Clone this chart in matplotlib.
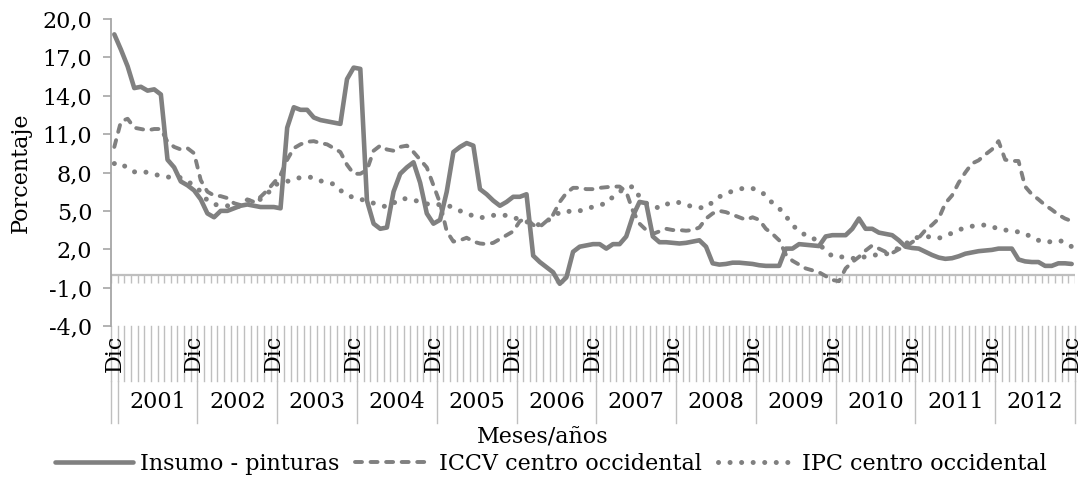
# Variacion anual: insumo pinturas vs ICCV e IPC centro occidental
import numpy as np
import matplotlib
matplotlib.use("Agg")
import matplotlib.pyplot as plt

plt.rcParams['font.family'] = ['DejaVu Serif']

# Dic 2000 + Ene..Dic 2001-2012 (145 meses)
years = [str(y) for y in range(2001, 2013)]
month_labels = ['Dic'] + (['', '', '', '', '', '', '', '', '', '', '', 'Dic'] * 12)

insumo = [18.8,
          17.6, 16.3, 14.6, 14.7, 14.4, 14.5, 14.1, 9.0, 8.4, 7.3, 7.0, 6.6,
          5.9, 4.8, 4.5, 5.0, 5.0, 5.2, 5.4, 5.5, 5.4, 5.3, 5.3, 5.3,
          5.2, 11.5, 13.1, 12.9, 12.9, 12.3, 12.1, 12.0, 11.9, 11.8, 15.3, 16.2,
          16.1, 5.8, 4.0, 3.6, 3.7, 6.5, 7.9, 8.4, 8.8, 7.2, 4.8, 4.0,
          4.3, 6.5, 9.6, 10.0, 10.3, 10.1, 6.7, 6.3, 5.8, 5.4, 5.7, 6.1,
          6.1, 6.3, 1.5, 1.0, 0.6, 0.2, -0.7, -0.2, 1.8, 2.2, 2.3, 2.4,
          2.4, 2.05, 2.4, 2.4, 3.0, 4.6, 5.7, 5.6, 3.0, 2.55, 2.55, 2.5,
          2.45, 2.5, 2.6, 2.7, 2.2, 0.9, 0.8, 0.85, 0.95, 0.95, 0.9, 0.85,
          0.75, 0.7, 0.7, 0.7, 2.05, 2.05, 2.4, 2.35, 2.3, 2.25, 3.0, 3.1,
          3.1, 3.1, 3.6, 4.4, 3.6, 3.6, 3.3, 3.2, 3.1, 2.7, 2.2, 2.1,
          2.05, 1.8, 1.55, 1.35, 1.25, 1.3, 1.45, 1.65, 1.75, 1.85, 1.9, 1.95,
          2.05, 2.05, 2.05, 1.2, 1.05, 1.0, 1.0, 0.7, 0.7, 0.9, 0.9, 0.85]

iccv = [10.0,
        12.0, 12.2, 11.5, 11.4, 11.3, 11.4, 11.4, 10.4, 10.0, 9.8, 9.9, 9.5,
        7.4, 6.5, 6.2, 6.15, 6.0, 5.6, 5.45, 5.9, 5.7, 6.1, 6.6, 7.2,
        7.8, 9.0, 9.9, 10.2, 10.4, 10.45, 10.3, 10.2, 9.9, 9.6, 8.6, 7.9,
        7.9, 8.2, 9.7, 10.1, 9.8, 9.7, 10.0, 10.1, 9.6, 9.0, 8.4, 7.0,
        5.6, 3.4, 2.6, 2.7, 2.9, 2.6, 2.45, 2.4, 2.5, 2.8, 3.1, 3.4,
        4.2, 4.4, 3.9, 3.75, 4.2, 4.7, 5.7, 6.4, 6.8, 6.8, 6.7, 6.7,
        6.8, 6.85, 6.9, 6.9, 6.5, 5.0, 4.0, 3.5, 3.2, 3.4, 3.6, 3.5,
        3.5, 3.45, 3.5, 3.7, 4.4, 4.8, 5.0, 4.9, 4.7, 4.5, 4.3, 4.5,
        4.3, 3.6, 3.2, 2.7, 1.6, 1.1, 0.8, 0.5, 0.35, 0.2, -0.1, -0.4,
        -0.5, 0.5, 1.0, 1.4, 1.9, 2.3, 2.05, 1.8, 1.7, 2.0, 2.2, 2.55,
        2.9, 3.5, 3.9, 4.4, 5.6, 6.2, 7.2, 8.0, 8.7, 8.95, 9.4, 9.8,
        10.45, 9.0, 8.9, 8.9, 6.9, 6.3, 5.9, 5.45, 5.1, 4.7, 4.4, 4.2]

ipc = [8.7,
       8.75, 8.3, 8.05, 8.1, 8.0, 7.85, 7.75, 7.65, 7.6, 7.6, 7.3, 7.0,
       6.5, 5.8, 5.5, 5.45, 5.4, 5.3, 5.4, 5.8, 5.85, 5.9, 6.3, 7.0,
       7.2, 7.3, 7.5, 7.6, 7.65, 7.6, 7.35, 7.2, 7.1, 6.6, 6.3, 6.0,
       5.9, 5.8, 5.6, 5.45, 5.3, 5.6, 5.95, 5.95, 5.85, 5.7, 5.55, 5.45,
       5.5, 5.5, 5.2, 5.0, 4.8, 4.6, 4.45, 4.55, 4.65, 4.65, 4.65, 4.5,
       4.3, 4.15, 4.0, 3.9, 4.2, 4.5, 4.9, 5.0, 4.9, 5.0, 5.2, 5.3,
       5.45, 5.6, 6.1, 6.5, 6.8, 6.9, 6.1, 5.6, 5.4, 5.2, 5.5, 5.7,
       5.65, 5.5, 5.3, 5.25, 5.25, 5.7, 6.1, 6.35, 6.55, 6.7, 6.8, 6.75,
       6.6, 6.2, 5.6, 5.2, 4.6, 3.9, 3.4, 3.1, 2.95, 2.4, 1.9, 1.45,
       1.4, 1.4, 1.3, 1.2, 1.45, 1.55, 1.55, 1.6, 1.85, 2.1, 2.4, 2.8,
       2.95, 3.0, 2.95, 2.85, 3.1, 3.25, 3.5, 3.7, 3.8, 3.85, 3.9, 3.8,
       3.55, 3.5, 3.45, 3.35, 3.25, 2.9, 2.7, 2.55, 2.6, 2.7, 2.55, 2.2]

series_names = ['Insumo - pinturas', 'ICCV centro occidental', 'IPC centro occidental']
yticks = [-4, -1, 2, 5, 8, 11, 14, 17, 20]

line_col = '#808080'
axis_col = '#A6A6A6'
band_col = '#BFBFBF'
fs = 16

fig = plt.figure(figsize=(10.83, 4.78), dpi=100)
W, H = 1083, 478
ax = fig.add_axes([111 / W, 1 - 326 / H, (1075 - 111) / W, (326 - 19) / H])

x = np.arange(len(insumo))
ax.plot(x, insumo, color=line_col, lw=3.3, solid_joinstyle='round',
        solid_capstyle='round', label=series_names[0])
ax.plot(x, iccv, color=line_col, lw=2.8, linestyle=(0, (1.8, 2.2)),
        dash_capstyle='round', label=series_names[1])
ax.plot(x, ipc, color=line_col, lw=3.6, linestyle=(0, (0.01, 2.3)),
        dash_capstyle='round', label=series_names[2])

ax.set_xlim(-0.5, len(x) - 0.5)
ax.set_ylim(yticks[0], yticks[-1])
ax.set_yticks(yticks)
ax.set_yticklabels([f"{v:.1f}".replace('.', ',') for v in yticks], fontsize=fs)
ax.tick_params(axis='y', length=5.5, width=1.2, color=axis_col, pad=8)
ax.set_xticks([])
for s in ['top', 'right', 'bottom']:
    ax.spines[s].set_visible(False)
ax.spines['left'].set_color(axis_col)
ax.spines['left'].set_linewidth(1.3)
ax.set_ylabel('Porcentaje', fontsize=fs, labelpad=8)

# horizontal axis crossing at zero with tick marks between categories
ax.axhline(0, color=band_col, lw=1.6, zorder=1)
bounds = np.arange(-0.5, len(x), 1.0)
ax.vlines(bounds, -0.65, 0, color=band_col, lw=1.0, zorder=1)

# multi-level category labels below the plot
tr = ax.get_xaxis_transform()
band1 = -(381 - 326) / 307
band2 = -(423 - 326) / 307
for b in bounds:
    ax.plot([b, b], [0, band1], transform=tr, color=band_col, lw=1.0, clip_on=False)
year_bounds = [-0.5] + [0.5 + 12 * k for k in range(len(years) + 1)]
for b in year_bounds:
    ax.plot([b, b], [band1, band2], transform=tr, color=band_col, lw=1.0, clip_on=False)
for i, lab in enumerate(month_labels):
    if lab:
        ax.text(i, band1 / 2, lab, transform=tr, rotation=90, ha='center',
                va='center', fontsize=fs)
for k, yr in enumerate(years):
    ax.text(6.5 + 12 * k, (band1 + band2) / 2, yr, transform=tr, ha='center',
            va='center', fontsize=fs)

fig.text(543 / W, 1 - 438 / H, 'Meses/años', ha='center', va='center', fontsize=fs)

fig.legend(loc='center', bbox_to_anchor=(551 / W, 1 - 464 / H), ncol=3,
           frameon=False, fontsize=fs, handlelength=3.5, handletextpad=0.3,
           columnspacing=0.7, borderaxespad=0)

fig.savefig('out.png', dpi=100)
